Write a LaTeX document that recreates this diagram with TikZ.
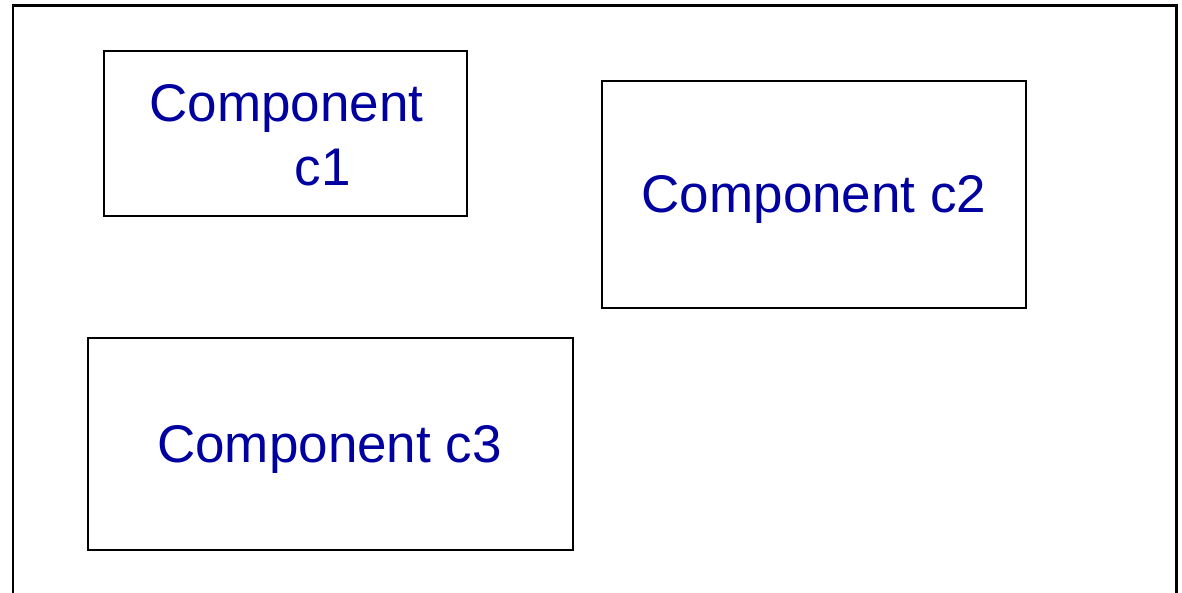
\documentclass[tikz,border=0pt]{standalone}
\usepackage{fontspec}
\setmainfont{Liberation Sans}
\definecolor{labelblue}{RGB}{0,0,160}
\tikzset{
  compbox/.style={draw=black, line width=2pt, inner sep=0pt, outer sep=0pt, anchor=north west},
  complabel/.style={text=labelblue, font=\fontsize{53}{60}\selectfont, inner sep=0pt, anchor=base west},
}
\begin{document}
\begin{tikzpicture}[x=1pt, y=-1pt]
  \useasboundingbox (0,0) rectangle (1182,593);
  % enclosing frame, running past the lower edge
  \begin{scope}
    \clip (0,0) rectangle (1182,593);
    \draw[line width=2.6pt] (13,620) -- (13,5.5) -- (1176.5,5.5) -- (1176.5,620);
  \end{scope}
  % components
  \node[compbox, minimum width=363pt, minimum height=165pt] (c1) at (103.5,51) {};
  \node[compbox, minimum width=423.5pt, minimum height=227pt] (c2) at (602,80.7) {};
  \node[compbox, minimum width=485pt, minimum height=212.5pt] (c3) at (87.7,337.5) {};
  % labels
  \node[complabel] (l1a) at (149.2,121.8) {Component};
  \node[complabel] (l1b) at (294.5,185.8) {c1};
  \node[complabel] (l2) at (641.5,212.7) {Component c2};
  \node[complabel] (l3) at (157,462.3) {Component c3};
\end{tikzpicture}
\end{document}
